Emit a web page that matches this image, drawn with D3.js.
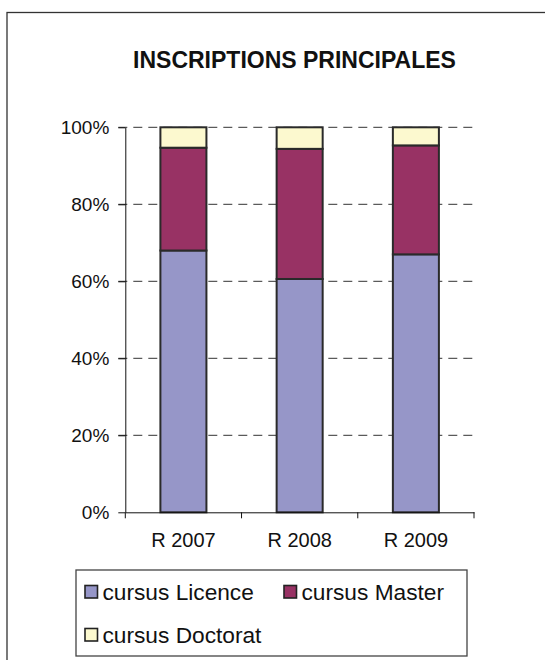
<!DOCTYPE html>
<html>
<head>
<meta charset="utf-8">
<script src="https://cdn.jsdelivr.net/npm/d3@7"></script>
<style>
  html, body { margin: 0; padding: 0; background: #fff; }
  svg { display: block; font-family: "Liberation Sans", Arial, sans-serif; }
</style>
</head>
<body>
<svg id="chart" width="545" height="660"></svg>
<script>
// Enrolment shares per year (percent of total)
const categories = ["R 2007", "R 2008", "R 2009"];
const seriesNames = ["cursus Licence", "cursus Master", "cursus Doctorat"];
const licence = [68.0, 60.6, 67.0];
const master = [26.7, 33.8, 28.3];
const doctorat = [5.3, 5.6, 4.7];
const yTicks = [0, 0.2, 0.4, 0.6, 0.8, 1.0];
const colors = ["#9696c8", "#983264", "#fcf9cf"];

const rows = categories.map((c, i) => ({
  cat: c, licence: licence[i], master: master[i], doctorat: doctorat[i]
}));
const keys = ["licence", "master", "doctorat"];
const stacked = d3.stack().keys(keys).offset(d3.stackOffsetExpand)(rows);

const svg = d3.select("#chart");

// Outer chart frame (runs off the right and bottom edges)
svg.append("rect")
  .attr("x", 7).attr("y", 12.5)
  .attr("width", 560).attr("height", 660)
  .attr("fill", "#fff").attr("stroke", "#333").attr("stroke-width", 1.3);

// Title
svg.append("text")
  .attr("x", 294.5).attr("y", 68)
  .attr("text-anchor", "middle")
  .attr("font-weight", "bold").attr("font-size", 23)
  .attr("fill", "#111")
  .text("INSCRIPTIONS PRINCIPALES");

const plotLeft = 125.3, plotRight = 474, plotTop = 127.3, plotBottom = 512.3;
const x = d3.scaleBand().domain(categories).range([plotLeft, plotRight])
  .paddingInner(0.604).paddingOuter(0.302);
const y = d3.scaleLinear().domain([0, 1]).range([plotBottom, plotTop]);

// Dashed gridlines
svg.append("g").selectAll("line")
  .data(yTicks.filter(d => d > 0))
  .join("line")
  .attr("x1", plotLeft - 7).attr("x2", plotRight)
  .attr("y1", d => y(d)).attr("y2", d => y(d))
  .attr("stroke", "#333").attr("stroke-width", 1)
  .attr("stroke-dasharray", "9,6");

// Stacked bars
svg.append("g").selectAll("g")
  .data(stacked)
  .join("g")
  .attr("fill", (d, i) => colors[i])
  .selectAll("rect")
  .data(d => d)
  .join("rect")
  .attr("x", d => x(d.data.cat))
  .attr("width", x.bandwidth())
  .attr("y", d => y(d[1]))
  .attr("height", d => y(d[0]) - y(d[1]))
  .attr("stroke", "#2a2a2a").attr("stroke-width", 2);

// Y axis
const yAxis = svg.append("g")
  .attr("transform", `translate(${plotLeft},0)`)
  .call(d3.axisLeft(y).tickValues(yTicks).tickFormat(d3.format(".0%"))
    .tickSize(7).tickPadding(9).tickSizeOuter(0));
yAxis.select(".domain").attr("stroke", "#111");
yAxis.selectAll(".tick line").attr("stroke", "#111");
yAxis.selectAll(".tick text").attr("font-size", 19).attr("fill", "#111")
  .attr("font-family", "Liberation Sans, Arial, sans-serif");

// X axis with ticks at category boundaries
const xAxis = svg.append("g")
  .attr("transform", `translate(0,${plotBottom})`)
  .call(d3.axisBottom(x).tickSize(0).tickPadding(21).tickSizeOuter(0));
xAxis.select(".domain").attr("stroke", "#111");
xAxis.selectAll(".tick text").attr("font-size", 20).attr("fill", "#111")
  .attr("font-family", "Liberation Sans, Arial, sans-serif");
const bounds = [plotLeft].concat(categories.map(c => x(c) + x.bandwidth() + x.step() * x.paddingInner() / 2));
xAxis.selectAll("line.bound")
  .data(bounds)
  .join("line")
  .attr("class", "bound")
  .attr("x1", d => d).attr("x2", d => d)
  .attr("y1", 0).attr("y2", 6)
  .attr("stroke", "#111");

// Legend
const lg = svg.append("g");
lg.append("rect")
  .attr("x", 76).attr("y", 570)
  .attr("width", 391).attr("height", 86)
  .attr("fill", "#fff").attr("stroke", "#444").attr("stroke-width", 1.3);
const legendPos = [[85, 599.5], [284, 599.5], [85, 642.5]];
const items = lg.selectAll("g.item")
  .data(seriesNames)
  .join("g")
  .attr("class", "item")
  .attr("transform", (d, i) => `translate(${legendPos[i][0]},${legendPos[i][1]})`);
items.append("rect")
  .attr("x", 0).attr("y", -14)
  .attr("width", 12.5).attr("height", 12.5)
  .attr("fill", (d, i) => colors[i])
  .attr("stroke", "#222").attr("stroke-width", 1.6);
items.append("text")
  .attr("x", 17.5).attr("y", 0)
  .attr("font-size", 22.7).attr("fill", "#111")
  .text(d => d);
</script>
</body>
</html>
